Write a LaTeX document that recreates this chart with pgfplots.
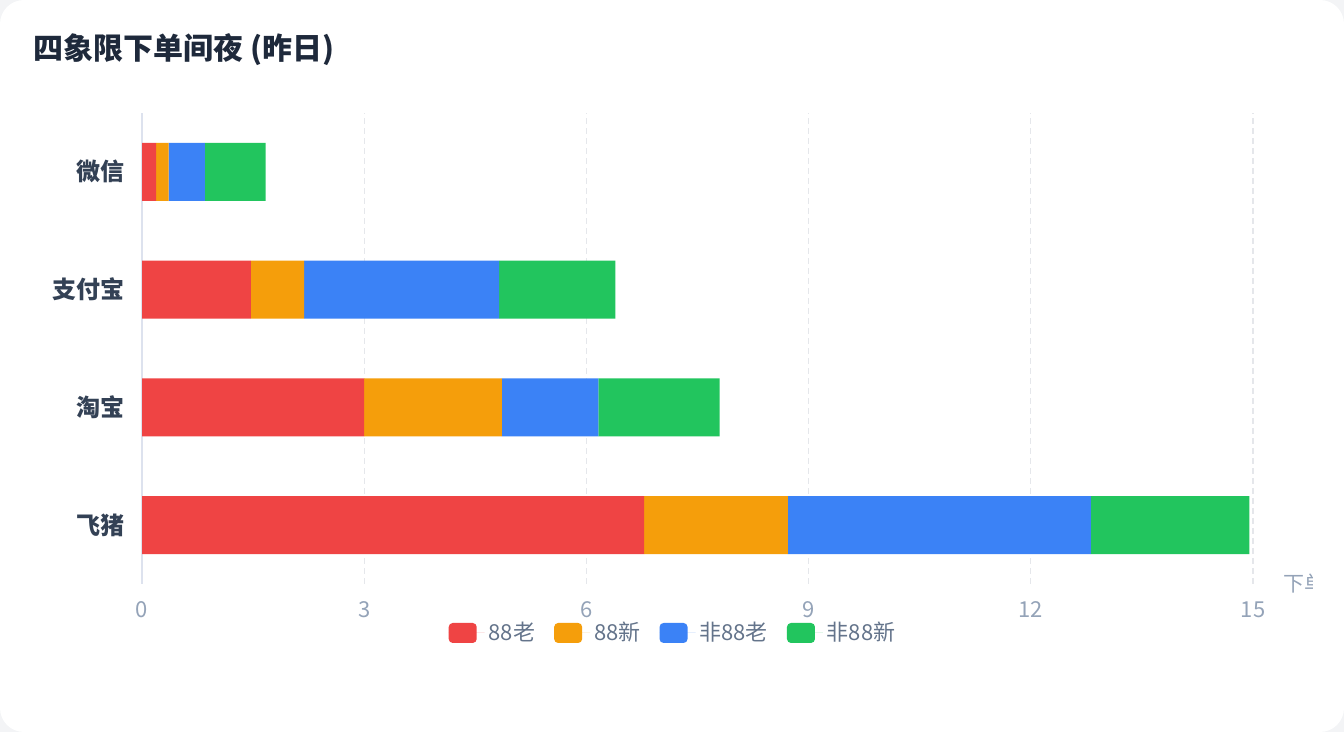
\documentclass[border=0pt]{standalone}
\usepackage{pgfplots}
\pgfplotsset{compat=1.18}
\usepackage{pgfplotstable}
\usepackage{fontspec}
\setmainfont{Noto Sans CJK SC}
\definecolor{cred}{HTML}{EF4444}
\definecolor{corange}{HTML}{F59E0B}
\definecolor{cblue}{HTML}{3B82F6}
\definecolor{cgreen}{HTML}{22C55E}
\definecolor{bgc}{HTML}{F3F4F6}
\definecolor{titlec}{HTML}{1E293B}
\definecolor{ylabc}{HTML}{334155}
\definecolor{tickc}{HTML}{94A3B8}
\definecolor{legc}{HTML}{64748B}
\definecolor{gridc}{HTML}{E5E7EB}
\definecolor{axisc}{HTML}{DDE2EE}
\pgfplotstableread{
y r o b g
0 6.78 1.94 4.09 2.14
1 3.00 1.86 1.30 1.64
2 1.47 0.72 2.63 1.57
3 0.19 0.17 0.49 0.82
}\data
\pgfplotsset{legbox/.style={legend image code/.code={\fill[##1,rounded corners=2pt] (0pt,-5pt) rectangle (14pt,5pt); \path (0pt,0pt) -- (18pt,0pt);}}}
\begin{document}
\begin{tikzpicture}
\fill[bgc] (0,0) rectangle (672pt,366pt);
\fill[white, rounded corners=12pt] (0,0) rectangle (672pt,366pt);
\node[anchor=west, inner sep=0pt, font=\fontsize{15}{18}\selectfont\bfseries, text=titlec] at (16.5pt,341pt) {四象限下单间夜 (昨日)};
\begin{scope}
\clip (0,0) rectangle (656pt,366pt);
\node[anchor=west, inner sep=0pt, font=\fontsize{10.5}{12}\selectfont, text=tickc] at (641.5pt,74.5pt) {下单间夜};
\end{scope}
\begin{axis}[
  at={(71pt,74pt)}, anchor=south west, scale only axis,
  width=555.5pt, height=235.5pt,
  xmin=0, xmax=15, ymin=-0.5, ymax=3.5,
  xbar stacked, bar width=29pt,
  xtick={3,6,...,15}, ytick={0,1,2,3},
  extra x ticks={0},
  extra x tick style={major grid style={solid, axisc, line width=1pt}},
  yticklabels={飞猪,淘宝,支付宝,微信},
  xmajorgrids, major grid style={gridc, dash pattern=on 3pt off 2pt, line width=0.6pt},
  axis line style={draw=none}, tick style={draw=none},
  /pgf/number format/assume math mode=true,
  xticklabel style={font=\fontsize{11}{13}\selectfont, text=tickc, inner sep=0pt, anchor=north, yshift=-8.5pt},
  yticklabel style={font=\fontsize{12}{14}\selectfont\bfseries, text=ylabc, inner sep=0pt, anchor=east, xshift=-8.5pt},
  legend columns=4,
  legend style={at={(0.4789,-0.104)}, anchor=center, draw=none, fill=none,
    font=\fontsize{11}{13}\selectfont, text=legc,
    /tikz/every even column/.append style={column sep=7.5pt}},
  legend cell align=left,
]
\addplot[fill=cred, draw=none, legbox] table[x=r, y=y] {\data};
\addlegendentry{88老}
\addplot[fill=corange, draw=none, legbox] table[x=o, y=y] {\data};
\addlegendentry{88新}
\addplot[fill=cblue, draw=none, legbox] table[x=b, y=y] {\data};
\addlegendentry{非88老}
\addplot[fill=cgreen, draw=none, legbox] table[x=g, y=y] {\data};
\addlegendentry{非88新}
\end{axis}
\end{tikzpicture}
\end{document}
